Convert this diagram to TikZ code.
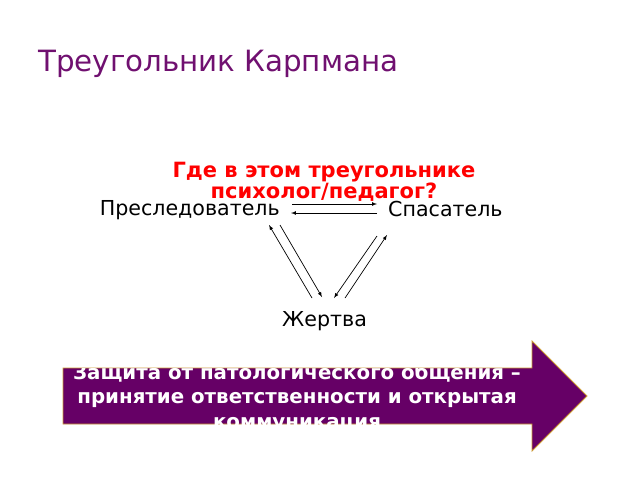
\documentclass[tikz,border=0pt]{standalone}
\usepackage{fontspec}
\setmainfont{DejaVu Sans}
\usetikzlibrary{arrows}
\definecolor{slidepurple}{RGB}{102,0,102}
\definecolor{titlepurple}{RGB}{112,16,112}
\definecolor{arrowrim}{RGB}{204,153,51}

\begin{document}
\begin{tikzpicture}[x=1pt,y=-1pt,
  role/.style={inner sep=0pt, font=\fontsize{20.6}{24}\selectfont},
  link/.style={-latex, line width=0.7pt}]

\useasboundingbox (0,0) rectangle (640,480);

\def \bodyleft {63}
\def \bodytop {368}
\def \bodybottom {424}
\def \headx {532}
\def \headtop {341}
\def \headbottom {451}
\def \tipx {587}
\def \tipy {396}

\node[anchor=west, text=titlepurple, inner sep=0pt, font=\fontsize{29.3}{34}\selectfont] (title) at (38,64) {Треугольник Карпмана};

\node[role, anchor=east] (persec) at (280,210) {Преследователь};
\node[role, anchor=west] (rescuer) at (388,209) {Спасатель};
\node[role, anchor=west] (victim) at (282,321) {Жертва};

% the triangle
\draw[link] ([shift={(12,-6)}]persec.east) -- ([shift={(-11,-5)}]rescuer.west);
\draw[link] ([shift={(-11,4)}]rescuer.west) -- ([shift={(11,3)}]persec.east);
\draw[link] ([shift={(30,-23)}]victim.west) -- ([shift={(-11,15)}]persec.east);
\draw[link] ([shift={(0,15)}]persec.east) -- ([shift={(40,-24)}]victim.west);
\draw[link] ([shift={(-11,27)}]rescuer.west) -- ([shift={(52,-23)}]victim.west);
\draw[link] ([shift={(63,-23)}]victim.west) -- ([shift={(-1,26)}]rescuer.west);

\node[text=red, align=center, inner sep=0pt, font=\bfseries\fontsize{21}{21}\selectfont] (question) at (324,182) {Где в этом треугольнике\\психолог/педагог?};

\draw[fill=slidepurple, draw=arrowrim, line width=0.8pt] (\bodyleft,\bodytop) -- (\headx,\bodytop) -- (\headx,\headtop) -- (\tipx,\tipy) -- (\headx,\headbottom) -- (\headx,\bodybottom) -- (\bodyleft,\bodybottom) -- cycle;
\begin{scope}
\clip (\bodyleft,\bodytop) rectangle (\headx,\bodybottom);
\node[text=white, align=center, inner sep=0pt, font=\bfseries\fontsize{19.8}{24.5}\selectfont] (motto) at (297,398) {Защита от патологического общения –\\принятие ответственности и открытая\\коммуникация};
\end{scope}
\end{tikzpicture}
\end{document}
